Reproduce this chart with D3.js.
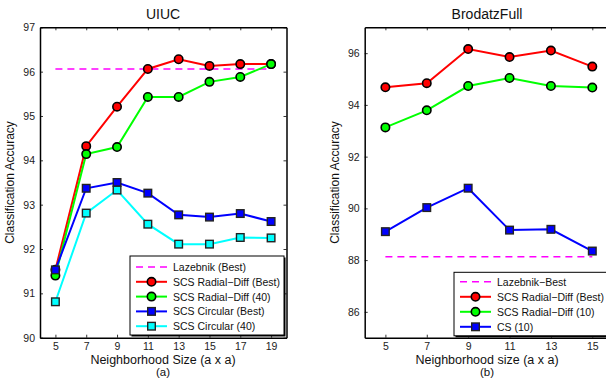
<!DOCTYPE html>
<html>
<head>
<meta charset="utf-8">
<script src="https://cdn.jsdelivr.net/npm/d3@7"></script>
<style>
  html, body { margin: 0; padding: 0; background: #fff; }
  svg { display: block; font-family: "Liberation Sans", Arial, sans-serif; }
</style>
</head>
<body>
<div id="chart"></div>
<script>
// --- data: (a) UIUC ---
const uiucSizes = [5, 7, 9, 11, 13, 15, 17, 19];
const uiucLazebnik = 96.06;
const uiucRadialBest = [91.53, 94.32, 95.21, 96.06, 96.28, 96.13, 96.17, 96.17];
const uiucRadial40 = [91.40, 94.14, 94.30, 95.43, 95.43, 95.77, 95.88, 96.17];
const uiucCircularBest = [91.53, 93.37, 93.50, 93.26, 92.77, 92.72, 92.80, 92.62];
const uiucCircular40 = [90.81, 92.81, 93.33, 92.56, 92.11, 92.11, 92.26, 92.25];
const uiucYTicks = [90, 91, 92, 93, 94, 95, 96, 97];

// --- data: (b) BrodatzFull ---
const brodatzSizes = [5, 7, 9, 11, 13, 15];
const brodatzLazebnik = 88.13;
const brodatzRadialBest = [94.68, 94.84, 96.16, 95.85, 96.10, 95.48];
const brodatzRadial10 = [93.13, 93.79, 94.73, 95.04, 94.73, 94.67];
const brodatzCS10 = [89.10, 90.03, 90.78, 89.16, 89.19, 88.35];
const brodatzYTicks = [86, 88, 90, 92, 94, 96];

const W = 606, H = 378;
const svg = d3.select("#chart").append("svg")
    .attr("width", W).attr("height", H)
    .attr("viewBox", [0, 0, W, H]);

const fmt = d3.format("d");

/**
 * Draws one matlab-style panel.
 */
function panel(cfg) {
    const x = d3.scaleLinear().domain(cfg.xDomain).range([cfg.left, cfg.right]);
    const y = d3.scaleLinear().domain(cfg.yDomain).range([cfg.bottom, cfg.top]);
    const g = svg.append("g");

    // box + inward ticks on all sides
    const axes = [
        [d3.axisBottom(x).tickValues(cfg.xTicks), `translate(0,${cfg.bottom})`, true],
        [d3.axisLeft(y).tickValues(cfg.yTicks), `translate(${cfg.left},0)`, true],
        [d3.axisTop(x).tickValues(cfg.xTicks), `translate(0,${cfg.top})`, false],
        [d3.axisRight(y).tickValues(cfg.yTicks), `translate(${cfg.right},0)`, false]
    ];
    for (const [ax, tr, labels] of axes) {
        ax.tickSizeInner(-3).tickSizeOuter(0).tickPadding(5);
        ax.tickFormat(labels ? fmt : "");
        const a = g.append("g").attr("transform", tr).call(ax);
        a.select(".domain").attr("stroke", "#000").attr("stroke-width", 1.5);
        a.selectAll(".tick line").attr("stroke", "#000").attr("stroke-width", 0.8);
        a.selectAll(".tick text").attr("font-size", 10.5).attr("fill", "#222")
            .attr("font-family", "Liberation Sans, Arial, sans-serif");
    }

    // baseline
    g.append("line")
        .attr("x1", x(cfg.sizes[0])).attr("x2", x(cfg.sizes[cfg.sizes.length - 1]))
        .attr("y1", y(cfg.baseline)).attr("y2", y(cfg.baseline))
        .attr("stroke", "#ff00ff").attr("stroke-width", 1.6)
        .attr("stroke-dasharray", "7,5");

    const line = d3.line().x(d => x(d[0])).y(d => y(d[1]));
    for (const s of cfg.series) {
        const pts = cfg.sizes.map((v, i) => [v, s.values[i]]);
        g.append("path").datum(pts).attr("d", line)
            .attr("fill", "none").attr("stroke", s.color).attr("stroke-width", 2);
        drawMarkers(g, pts.map(p => [x(p[0]), y(p[1])]), s);
    }

    // titles
    g.append("text").attr("x", cfg.titleX).attr("y", 19)
        .attr("text-anchor", "middle").attr("font-size", 14).attr("fill", "#111")
        .text(cfg.title);
    g.append("text").attr("x", cfg.xLabelX).attr("y", 364)
        .attr("text-anchor", "middle").attr("font-size", 12.5).attr("fill", "#111")
        .text(cfg.xLabel);
    g.append("text").attr("x", cfg.xLabelX).attr("y", 376)
        .attr("text-anchor", "middle").attr("font-size", 11.5).attr("fill", "#111")
        .text(cfg.sub);
    g.append("text")
        .attr("transform", `translate(${cfg.yLabelX},${(cfg.top + cfg.bottom) / 2}) rotate(-90)`)
        .attr("text-anchor", "middle").attr("font-size", 12).attr("fill", "#111")
        .text("Classification Accuracy");

    // legend
    const L = cfg.legend;
    g.append("rect").attr("x", L.x + 1.5).attr("y", L.y + 1.5)
        .attr("width", L.w).attr("height", L.h).attr("fill", "#000");
    g.append("rect").attr("x", L.x).attr("y", L.y)
        .attr("width", L.w).attr("height", L.h)
        .attr("fill", "#fff").attr("stroke", "#000").attr("stroke-width", 1);
    L.items.forEach((it, i) => {
        const yy = L.y + L.first + i * L.step;
        const lg = g.append("g");
        lg.append("line").attr("x1", L.x + 6).attr("x2", L.x + 37)
            .attr("y1", yy).attr("y2", yy)
            .attr("stroke", it.color).attr("stroke-width", it.dash ? 1.6 : 2)
            .attr("stroke-dasharray", it.dash ? "7,5" : null);
        if (it.marker) drawMarkers(lg, [[L.x + 21.5, yy]], it);
        lg.append("text").attr("x", L.x + 43).attr("y", yy + 4)
            .attr("font-size", 10.5).attr("fill", "#111").text(it.name);
    });
}

function drawMarkers(g, pts, s) {
    if (s.marker === "circle") {
        g.selectAll(null).data(pts).join("circle")
            .attr("cx", d => d[0]).attr("cy", d => d[1]).attr("r", 4.2)
            .attr("fill", s.color).attr("stroke", "#000").attr("stroke-width", 1.6);
    } else {
        g.selectAll(null).data(pts).join("rect")
            .attr("x", d => d[0] - 3.8).attr("y", d => d[1] - 3.8)
            .attr("width", 7.6).attr("height", 7.6)
            .attr("fill", s.color).attr("stroke", "#222").attr("stroke-width", 1.4);
    }
}

panel({
    title: "UIUC", titleX: 163, xLabel: "Neighborhood Size (a x a)", sub: "(a)", xLabelX: 163,
    yLabelX: 14,
    left: 40, right: 286.5, top: 27.3, bottom: 337.7,
    xDomain: [4, 20], yDomain: [90, 97],
    xTicks: uiucSizes, yTicks: uiucYTicks,
    sizes: uiucSizes, baseline: uiucLazebnik,
    series: [
        { values: uiucRadialBest, color: "#ff0000", marker: "circle" },
        { values: uiucRadial40, color: "#00ff00", marker: "circle" },
        { values: uiucCircularBest, color: "#0000ff", marker: "square" },
        { values: uiucCircular40, color: "#00ffff", marker: "square" }
    ],
    legend: {
        x: 130, y: 256, w: 154, h: 79, first: 11, step: 14.8,
        items: [
            { name: "Lazebnik (Best)", color: "#ff00ff", dash: true },
            { name: "SCS Radial\u2212Diff (Best)", color: "#ff0000", marker: "circle" },
            { name: "SCS Radial\u2212Diff (40)", color: "#00ff00", marker: "circle" },
            { name: "SCS Circular (Best)", color: "#0000ff", marker: "square" },
            { name: "SCS Circular (40)", color: "#00ffff", marker: "square" }
        ]
    }
});

panel({
    title: "BrodatzFull", titleX: 487, xLabel: "Neighborhood size (a x a)", sub: "(b)", xLabelX: 487,
    yLabelX: 339,
    left: 364.7, right: 613, top: 27.3, bottom: 337.7,
    xDomain: [4, 16], yDomain: [85, 97],
    xTicks: brodatzSizes, yTicks: brodatzYTicks,
    sizes: brodatzSizes, baseline: brodatzLazebnik,
    series: [
        { values: brodatzRadialBest, color: "#ff0000", marker: "circle" },
        { values: brodatzRadial10, color: "#00ff00", marker: "circle" },
        { values: brodatzCS10, color: "#0000ff", marker: "square" }
    ],
    legend: {
        x: 454, y: 272.3, w: 160, h: 63.5, first: 9.5, step: 15,
        items: [
            { name: "Lazebnik\u2212Best", color: "#ff00ff", dash: true },
            { name: "SCS Radial\u2212Diff (Best)", color: "#ff0000", marker: "circle" },
            { name: "SCS Radial\u2212Diff (10)", color: "#00ff00", marker: "circle" },
            { name: "CS (10)", color: "#0000ff", marker: "square" }
        ]
    }
});
</script>
</body>
</html>
